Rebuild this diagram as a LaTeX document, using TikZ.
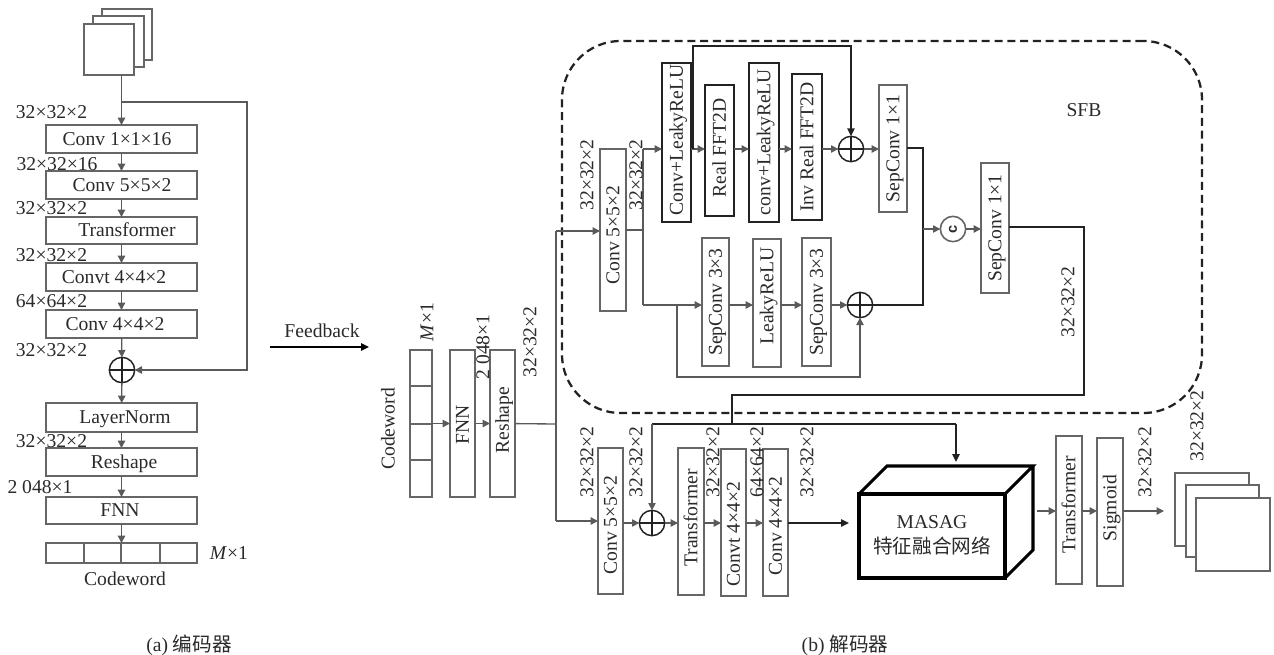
\documentclass[tikz,border=0pt]{standalone}
\usepackage{fontspec}
\usepackage{graphicx}
\setmainfont{Liberation Serif}
\setsansfont{Liberation Sans}
\newfontfamily\cjk{Noto Sans CJK SC}
\usetikzlibrary{arrows.meta,calc}
\definecolor{ln}{HTML}{5A5A5A}
\definecolor{bxc}{HTML}{666666}
\definecolor{dk}{HTML}{222222}
\definecolor{tc}{HTML}{2A2A2A}
\newcommand{\tx}[2]{\ifdim #1pt<0pt\relax\vphantom{A}\smash{#2}\hspace*{\dimexpr -#1pt*3/2\relax}\else\hspace*{\dimexpr #1pt*3/2\relax}\vphantom{A}\smash{#2}\fi}
\newcommand{\rt}[2]{\rotatebox{90}{\tx{#1}{#2}}}
\newcommand{\bx}[6][]{%
  \pgfmathsetmacro\bcx{(#3+#5)/2}\pgfmathsetmacro\bcy{(#4+#6)/2}%
  \node[boxs,minimum width={(#5-#3)*0.75pt},minimum height={(#6-#4)*0.75pt},#1] (#2) at (\bcx,\bcy)}
\tikzset{
  boxs/.style={draw=bxc,line width=1.2pt,inner sep=0pt,outer sep=0pt,text=tc,font=\fontsize{14.7}{17}\selectfont},
  dkbox/.style={draw=dk,line width=1.1pt},
  lab/.style={inner sep=0pt,outer sep=0pt,text=tc,font=\fontsize{14.7}{17}\selectfont},
  vlab/.style={lab,rotate=90},
  ar/.style={draw=ln,line width=1pt,-{Triangle[length=5.5pt,width=5.5pt]},ln},
  pl/.style={draw=ln,line width=1pt},
  dkar/.style={draw=dk,line width=1.1pt,-{Triangle[length=6pt,width=5.5pt]},dk},
  dkl/.style={draw=dk,line width=1.1pt},
  oplusn/.style={circle,draw=dk,line width=1.1pt,minimum size=19pt,inner sep=0pt,outer sep=0pt,
    path picture={\draw[dk,line width=.9pt] (path picture bounding box.north)--(path picture bounding box.south)
      (path picture bounding box.west)--(path picture bounding box.east);}},
  stackb/.style={draw=bxc,line width=1.2pt,fill=white,inner sep=0pt,outer sep=0pt},
  cube/.style={draw=black,line width=2.3pt,line join=miter},
}
\begin{document}
\begin{tikzpicture}[x=0.75pt,y=-0.75pt]
\useasboundingbox (0,0) rectangle (1274,654);
% SFB region
\node[draw=dk,line width=1.7pt,dash pattern=on 6pt off 3.6pt,rounded corners=44pt,inner sep=0pt,outer sep=0pt,minimum width=480pt,minimum height=279pt] (sfb) at (882,227) {};
\node[lab] (sfbt) at (1084,110) {SFB};
% ---------- Encoder
\bx[stackb]{s3}{102}{9}{152}{60}{};
\bx[stackb]{s2}{93}{16}{144}{67}{};
\bx[stackb]{s1}{84}{24}{134}{75}{};
\bx{cv1}{46}{125}{197}{153}{\tx{-4.5}{Conv 1×1×16}};
\bx{cv2}{46}{171}{197}{199}{\tx{0.5}{Conv 5×5×2}};
\bx{tr}{46}{217}{197}{244}{\tx{5.5}{Transformer}};
\bx{cvt}{46}{263}{197}{291}{\tx{-7.5}{Convt 4×4×2}};
\bx{cv4}{46}{310}{197}{338}{\tx{-6.5}{Conv 4×4×2}};
\node[oplusn] (ep) at (122,370) {};
\bx{ln}{46}{403}{197}{432}{\tx{3.5}{LayerNorm}};
\bx{rs}{46}{448}{197}{476}{\tx{2.5}{Reshape}};
\bx{fn}{46}{497}{197}{524}{\tx{-1.5}{FNN}};
\bx{cw}{46}{543}{197}{563}{};
\draw[boxs] (84,543)--(84,563) (121,543)--(121,563) (160,543)--(160,563);
\node[lab] (cwt) at (125,579) {Codeword};
\node[lab] (mt) at (229,553) {\textit{M}×1};
\coordinate (eb) at (122,102);
\coordinate (ec) at (247,102);
\draw[ar] (cv1.north |- s1.south) -- (cv1.north);
\draw[ar] (cv1) -- (cv2);
\draw[ar] (cv2) -- (tr);
\draw[ar] (tr) -- (cvt);
\draw[ar] (cvt) -- (cv4);
\draw[ar] (cv4) -- (ep);
\draw[ar] (ep) -- (ln);
\draw[ar] (ln) -- (rs);
\draw[ar] (rs) -- (fn);
\draw[ar] (fn) -- (cw);
\draw[ar] (eb) -- (ec) |- (ep.east);
\node[lab] (a1) at (51.5,112) {32×32×2};
\node[lab] (a2) at (57,164) {32×32×16};
\node[lab] (a3) at (51.5,208) {32×32×2};
\node[lab] (a4) at (51.5,255) {32×32×2};
\node[lab] (a5) at (51.5,301) {64×64×2};
\node[lab] (a6) at (51.5,350) {32×32×2};
\node[lab] (a7) at (51.5,441) {32×32×2};
\node[lab] (a8) at (40,487) {2 048×1};
\node[lab] (capa) at (189,645) {(a) {\cjk 编码器}};
% Feedback
\coordinate (fa) at (270,347);
\coordinate (fb) at (369,347);
\draw[dkar,draw=black,fill=black,line width=1.4pt] (fa) -- (fb);
\node[lab] (fbt) at (322,331) {Feedback};
% ---------- Decoder left
\bx{dcw}{410}{350}{432}{497}{};
\draw[boxs] (410,386)--(432,386) (410,424)--(432,424) (410,460)--(432,460);
\bx{dfn}{450}{350}{475}{497}{\rt{-1.5}{FNN}};
\bx{drs}{490}{350}{515}{497}{\rt{3.5}{Reshape}};
\node[vlab] (dcwt) at (388,429) {Codeword};
\draw[ar] (dcw) -- (dfn);
\draw[ar] (dfn) -- (drs);
\coordinate (tj) at (556,424);
\draw[pl] (drs) -- (tj);
% ---------- SFB content
\bx{c5t}{600}{149}{626}{311}{\rt{-5}{Conv 5×5×2}};
\bx[dkbox]{cl1}{662}{63}{691}{222}{\rt{2.5}{Conv+LeakyReLU}};
\bx[dkbox]{rf}{705}{85}{734}{216}{\rt{2.5}{Real FFT2D}};
\bx[dkbox]{cl2}{749}{63}{779}{222}{\rt{0.5}{conv+LeakyReLU}};
\bx[dkbox]{irf}{792}{74}{822}{220}{\rt{0}{Inv Real FFT2D}};
\node[oplusn] (p1) at (851,149) {};
\bx{sp1}{879}{85}{907}{212}{\rt{0}{SepConv 1×1}};
\bx{s31}{702}{238}{729}{366}{\rt{0}{SepConv 3×3}};
\bx{lr}{753}{239}{781}{367}{\rt{7}{LeakyReLU}};
\bx{s32}{802}{238}{831}{366}{\rt{0}{SepConv 3×3}};
\node[oplusn] (p2) at (860,305) {};
\node[circle,draw=bxc,line width=1.2pt,minimum size=19pt,inner sep=0pt,outer sep=0pt,font=\sffamily\bfseries\fontsize{11}{13}\selectfont,text=tc] (cc) at (953,229) {\rotatebox{90}{c}};
\bx{sp2}{981}{163}{1009}{293}{\rt{0}{SepConv 1×1}};
% SFB connectors
\coordinate (ih) at (556,231);
\coordinate (il) at (556,521);
\coordinate (bt) at (643,149);
\coordinate (bb) at (643,305);
\coordinate (lp) at (693,149);
\coordinate (lu) at (693,46);
\coordinate (ru) at (851,46);
\coordinate (sk) at (677,305);
\coordinate (skb) at (677,377);
\coordinate (mo) at (923,148);
\coordinate (ml) at (923,305);
\coordinate (mc) at (923,229);
\coordinate (oc) at (1084,227);
\coordinate (od) at (1084,395);
\coordinate (oe) at (732,395);
\coordinate (of) at (732,424);
\coordinate (ol) at (652,424);
\coordinate (or) at (956,424);
\draw[pl] (ih) -- (il);
\draw[ar] (ih) -- (c5t.west |- ih);
\draw[pl] (c5t.east |- 0,230) -- (643,230);
\draw[pl] (bt) -- (bb);
\draw[ar] (bt) -- (cl1.west |- bt);
\draw[ar] (cl1.east |- bt) -- (rf.west |- bt);
\draw[ar] (rf.east |- bt) -- (cl2.west |- bt);
\draw[ar] (cl2.east |- bt) -- (irf.west |- bt);
\draw[ar] (irf.east |- p1) -- (p1.west);
\draw[ar] (p1.east) -- (sp1.west |- p1);
\draw[dkar] (lp) -- (lu) -- (ru) -- (p1.north);
\draw[ar] (bb) -- (s31.west |- bb);
\draw[ar] (s31.east |- bb) -- (lr.west |- bb);
\draw[ar] (lr.east |- bb) -- (s32.west |- bb);
\draw[ar] (s32.east |- bb) -- (p2.west);
\draw[ar] (sk) -- (skb) -- (skb -| p2) -- (p2.south);
\draw[dkl] (sp1.east |- mo) -- (mo) -- (ml) -- (p2.east);
\draw[ar] (mc) -- (cc.west);
\draw[ar] (cc.east) -- (sp2.west |- cc);
\draw[dkl] (sp2.east |- oc) -- (oc) -- (od) -- (oe) -- (of);
\node[vlab] (d1) at (587,175) {32×32×2};
\node[vlab] (d2) at (636,175) {32×32×2};
\node[vlab] (d3) at (1068,302) {32×32×2};
\node[vlab] (d4) at (427,322) {\textit{M}×1};
\node[vlab] (d5) at (483,347) {2 048×1};
\node[vlab] (d6) at (530,342) {32×32×2};
% ---------- Bottom row
\bx{c5b}{598}{448}{623}{594}{\rt{-4}{Conv 5×5×2}};
\node[oplusn] (p3) at (652,523) {};
\bx{trb}{678}{448}{704}{595}{\rt{3.5}{Transformer}};
\bx{cvb}{721}{449}{746}{596}{\rt{-11.5}{Convt 4×4×2}};
\bx{c4b}{763}{449}{788}{596}{\rt{-3.5}{Conv 4×4×2}};
\node[draw=black,line width=2.3pt,fill=white,inner sep=0pt,outer sep=0pt,minimum width=109.5pt,minimum height=63pt,align=center,text=tc,font=\fontsize{14.7}{18.8}\selectfont] (mas) at (932,536) {\raisebox{2pt}{MASAG}\\[0pt]\raisebox{2pt}{\cjk 特征融合网络}};
\draw[cube] (mas.north west) -- ++(28,-28) -- ++(146,0) -- ++(-28,28) (mas.north east) ++(28,-28) -- ++(0,84) -- (mas.south east);
\bx{trc}{1056}{436}{1082}{584}{\rt{5}{Transformer}};
\bx{sig}{1097}{438}{1123}{586}{\rt{4}{Sigmoid}};
\bx[stackb]{t3}{1175}{473}{1249}{546}{};
\bx[stackb]{t2}{1186}{485}{1259}{557}{};
\bx[stackb]{t1}{1196}{498}{1270}{571}{};
\coordinate (me) at (1037,511);
\coordinate (ts) at (1164,511);
\coordinate (mi) at (849,523);
\draw[ar] (il) -- (c5b.west |- il);
\draw[ar] (c5b.east |- p3) -- (p3.west);
\draw[ar] (p3.east) -- (trb.west |- p3);
\draw[ar] (trb.east |- p3) -- (cvb.west |- p3);
\draw[ar] (cvb.east |- p3) -- (c4b.west |- p3);
\draw[dkar] (c4b.east |- p3) -- (mi);
\draw[dkl] (ol) -- (or);
\draw[ar] (ol) -- (p3.north);
\draw[dkar] (or) -- (or |- 0,462);
\draw[ar] (me) -- (trc.west |- me);
\draw[ar] (trc.east |- me) -- (sig.west |- me);
\draw[ar] (sig.east |- me) -- (ts);
\node[vlab] (b1) at (587,462) {32×32×2};
\node[vlab] (b2) at (636,462) {32×32×2};
\node[vlab] (b3) at (713,462) {32×32×2};
\node[vlab] (b4) at (757,462) {64×64×2};
\node[vlab] (b5) at (807,462) {32×32×2};
\node[vlab] (b6) at (1145,462) {32×32×2};
\node[vlab] (b7) at (1197,426) {32×32×2};
\node[lab] (capb) at (845,645) {(b) {\cjk 解码器}};
\end{tikzpicture}
\end{document}
